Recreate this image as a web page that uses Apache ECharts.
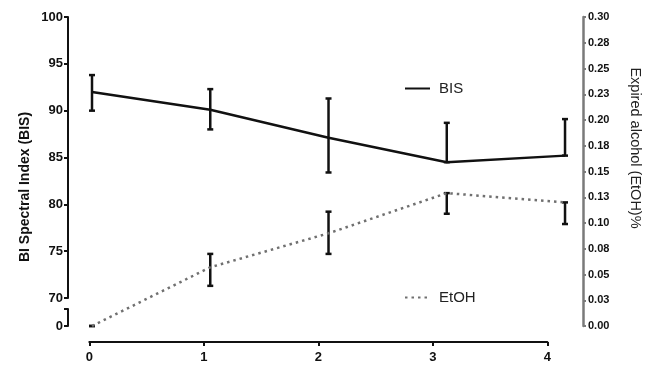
<!DOCTYPE html>
<html>
<head>
<meta charset="utf-8">
<script src="https://cdn.jsdelivr.net/npm/echarts@6/dist/echarts.min.js"></script>
<style>
  html, body { margin: 0; padding: 0; background: #fff; }
  #chart { width: 650px; height: 370px; }
</style>
</head>
<body>
<div id="chart"></div>
<script>
// Time points (hours)
const timepoints = [0, 1, 2, 3, 4];
const xTickLabels = ['0', '1', '2', '3', '4'];

// Bispectral index: mean and error bar extents
const bisMean = [92.0, 90.1, 87.1, 84.5, 85.2];
const bisErrUp = [1.8, 2.2, 4.2, 4.2, 3.9];
const bisErrDown = [2.0, 2.1, 3.7, 0, 0];

// Expired alcohol (%): mean and error bar extents
const etohMean = [0.000, 0.057, 0.090, 0.129, 0.120];
const etohErrUp = [0, 0.013, 0.021, 0, 0];
const etohErrDown = [0, 0.018, 0.020, 0.020, 0.021];

// Left axis ticks, right axis tick labels
const bisTicks = [70, 75, 80, 85, 90, 95, 100];
const etohTickLabels = ['0.00', '0.03', '0.05', '0.08', '0.10', '0.13', '0.15',
                        '0.18', '0.20', '0.23', '0.25', '0.28', '0.30'];

const FONT = "'Liberation Sans', Arial, sans-serif";
const INK = '#111';
const GREY = '#707070';

const bisLine = timepoints.map((t, i) => [t, bisMean[i]]);
const bisBars = timepoints.map((t, i) => [t, bisMean[i], bisErrUp[i], bisErrDown[i]]);
const etohLine = timepoints.map((t, i) => [t, etohMean[i]]);
const etohBars = timepoints.map((t, i) => [t, etohMean[i], etohErrUp[i], etohErrDown[i]]);

function errorBar(params, api) {
  const x = api.value(0), m = api.value(1), up = api.value(2), dn = api.value(3);
  const top = api.coord([x, m + up]);
  const bot = api.coord([x, m - dn]);
  const cw = 3;
  const st = { stroke: INK, lineWidth: 2.5 };
  return {
    type: 'group',
    children: [
      { type: 'line', shape: { x1: top[0], y1: top[1], x2: bot[0], y2: bot[1] }, style: st },
      { type: 'line', shape: { x1: top[0] - cw, y1: top[1], x2: top[0] + cw, y2: top[1] }, style: st },
      { type: 'line', shape: { x1: bot[0] - cw, y1: bot[1], x2: bot[0] + cw, y2: bot[1] }, style: st }
    ]
  };
}

const hiddenX = { type: 'value', min: -0.203, max: 4.152, show: false };

const option = {
  animation: false,
  backgroundColor: '#fff',
  grid: [
    // 0: BIS plot area (70–100 segment)
    { left: 68, right: 67, top: 17, height: 281 },
    // 1: EtOH plot area
    { left: 68, right: 67, top: 17, height: 309 },
    // 2: broken-off zero stub of the BIS axis
    { left: 68, right: 67, top: 309, height: 17 },
    // 3: visible time axis
    { left: 89.3, right: 102.7, top: 300, height: 42 },
    // 4: holder for the left axis title
    { left: 68, right: 67, top: 44, height: 286 },
    // 5: holder for the right axis title
    { left: 68, right: 67, top: 17, height: 262 }
  ],
  xAxis: [
    Object.assign({ gridIndex: 0 }, hiddenX),
    Object.assign({ gridIndex: 1 }, hiddenX),
    Object.assign({ gridIndex: 2 }, hiddenX),
    {
      gridIndex: 3, type: 'value', min: 0, max: 4, interval: 1,
      axisLine: { show: true, onZero: false, lineStyle: { color: INK, width: 2 } },
      axisTick: { show: true, length: 4, lineStyle: { color: INK, width: 2 } },
      splitLine: { show: false },
      axisLabel: {
        margin: 9, color: INK, fontFamily: FONT, fontWeight: 'bold', fontSize: 13,
        formatter: v => xTickLabels[Math.round(v)]
      }
    },
    Object.assign({ gridIndex: 4 }, hiddenX),
    Object.assign({ gridIndex: 5 }, hiddenX)
  ],
  yAxis: [
    {
      gridIndex: 0, type: 'value', position: 'left',
      min: bisTicks[0], max: bisTicks[bisTicks.length - 1], interval: 5,
      axisLine: { show: true, onZero: false, lineStyle: { color: INK, width: 2 } },
      axisTick: { show: true, length: 4, lineStyle: { color: INK, width: 2 } },
      splitLine: { show: false },
      axisLabel: { margin: 5, color: INK, fontFamily: FONT, fontWeight: 'bold', fontSize: 13 }
    },
    {
      gridIndex: 1, type: 'value', position: 'right',
      min: 0, max: 0.3, interval: 0.025,
      axisLine: { show: true, onZero: false, lineStyle: { color: '#7a7a7a', width: 2.5 } },
      axisTick: { show: true, length: 3, lineStyle: { color: '#7a7a7a', width: 2 } },
      splitLine: { show: false },
      axisLabel: {
        margin: 5, color: INK, fontFamily: FONT, fontWeight: 'bold', fontSize: 11,
        formatter: v => etohTickLabels[Math.round(v / 0.025)]
      }
    },
    {
      gridIndex: 2, type: 'value', position: 'left',
      min: 0, max: 1, interval: 1,
      axisLine: { show: true, onZero: false, lineStyle: { color: INK, width: 2 } },
      axisTick: { show: true, length: 4, lineStyle: { color: INK, width: 2 } },
      splitLine: { show: false },
      axisLabel: {
        margin: 5, color: INK, fontFamily: FONT, fontWeight: 'bold', fontSize: 13,
        formatter: v => (v === 0 ? '0' : '')
      }
    },
    { gridIndex: 3, type: 'value', show: false },
    {
      gridIndex: 4, type: 'value', position: 'left',
      axisLine: { show: false, onZero: false }, axisTick: { show: false },
      axisLabel: { show: false }, splitLine: { show: false },
      name: 'BI Spectral Index (BIS)', nameLocation: 'middle', nameGap: 36,
      nameTextStyle: { color: INK, fontFamily: FONT, fontWeight: 'bold', fontSize: 14 }
    },
    {
      gridIndex: 5, type: 'value', position: 'right',
      axisLine: { show: false, onZero: false }, axisTick: { show: false },
      axisLabel: { show: false }, splitLine: { show: false },
      name: 'Expired alcohol (EtOH)%', nameLocation: 'middle', nameGap: 57, nameRotate: -90,
      nameTextStyle: { color: '#222', fontFamily: FONT, fontSize: 14.5 }
    }
  ],
  legend: {
    data: ['BIS', 'EtOH'], orient: 'vertical', left: 399, top: 76,
    itemWidth: 25, itemHeight: 14, itemGap: 194,
    itemStyle: { color: 'rgba(0,0,0,0)', borderWidth: 0, opacity: 0 },
    textStyle: { color: '#222', fontFamily: FONT, fontSize: 15, padding: [0, 0, 0, 4] }
  },
  series: [
    {
      name: 'BIS', type: 'line', xAxisIndex: 0, yAxisIndex: 0,
      data: bisLine, symbol: 'none',
      lineStyle: { color: INK, width: 2.5 }, itemStyle: { color: INK }
    },
    {
      type: 'custom', xAxisIndex: 0, yAxisIndex: 0, clip: false,
      data: bisBars, renderItem: errorBar, encode: { x: 0, y: 1 }, z: 3
    },
    {
      name: 'EtOH', type: 'line', xAxisIndex: 1, yAxisIndex: 1,
      data: etohLine, symbol: 'none',
      lineStyle: { color: GREY, width: 2.5, type: [2.5, 4] }, itemStyle: { color: GREY }
    },
    {
      type: 'custom', xAxisIndex: 1, yAxisIndex: 1, clip: false,
      data: etohBars, renderItem: errorBar, encode: { x: 0, y: 1 }, z: 3
    }
  ]
};

const chart = echarts.init(document.getElementById('chart'), null, { renderer: 'canvas' });
chart.setOption(option);
</script>
</body>
</html>
